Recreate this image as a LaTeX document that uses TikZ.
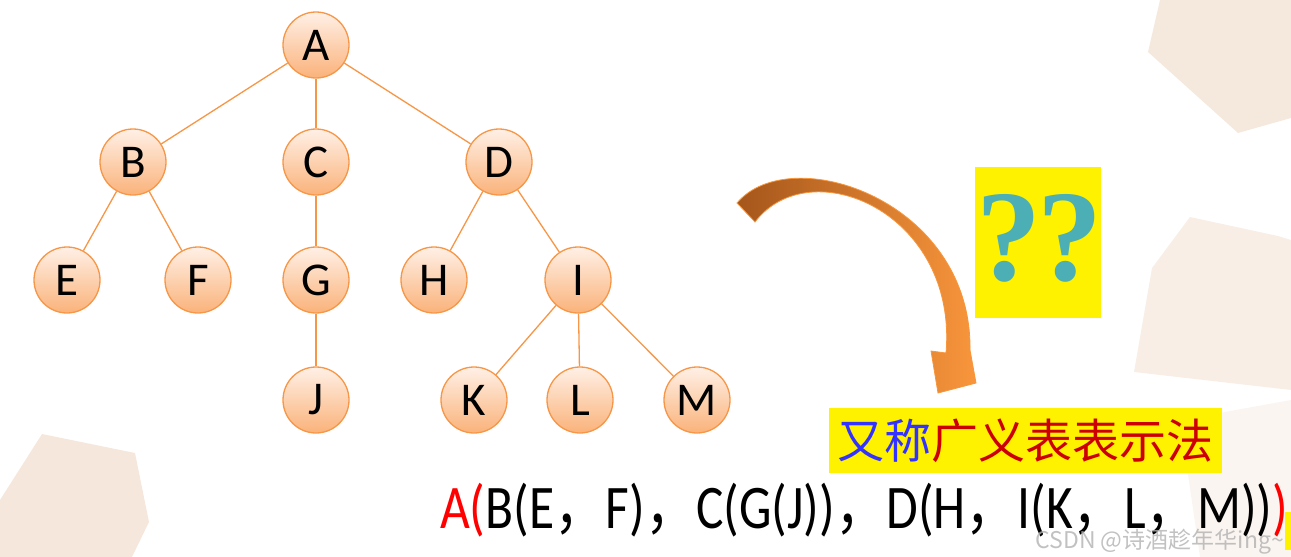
\documentclass[tikz,border=0pt]{standalone}
\usepackage{fontspec}
\setmainfont{Carlito}
\newfontfamily\cjk{Noto Sans CJK SC}
\newfontfamily\qfont{Liberation Serif}
\definecolor{edgeor}{HTML}{F79646}
\definecolor{nodetop}{HTML}{FFF0E6}
\definecolor{nodebot}{HTML}{FAB27A}
\definecolor{arrdark}{HTML}{A5561B}
\definecolor{arrlight}{HTML}{F9963C}
\definecolor{bgbeige}{HTML}{F3E3D6}
\definecolor{qteal}{HTML}{4CAFB6}
\definecolor{cjkblue}{HTML}{3333FF}
\definecolor{cjkred}{HTML}{CC0000}
\tikzset{
  tn/.style={circle, draw=edgeor, line width=1.3pt, minimum size=66pt, inner sep=0pt,
    top color=nodetop, bottom color=nodebot, font=\fontsize{47}{47}\selectfont},
  tedge/.style={draw=edgeor, line width=1.3pt},
  bgpoly/.style={fill=bgbeige, draw=none},
  ybox/.style={fill=yellow, draw=none}
}
\begin{document}
\begin{tikzpicture}[x=1pt,y=-1pt]
\useasboundingbox (0,0) rectangle (1291,557);
% background decorations
\fill[bgpoly, opacity=0.8] (1160,0) -- (1148,52) -- (1238,133) -- (1291,118) -- (1291,0) -- cycle;
\fill[bgpoly, opacity=0.6] (1190,217) -- (1278,236) -- (1291,240) -- (1291,390) -- (1134,372) -- (1152,268) -- cycle;
\fill[bgpoly, opacity=0.35] (1180,420) -- (1291,400) -- (1291,557) -- (1200,557) -- cycle;
\fill[bgpoly, opacity=0.85] (42,434) -- (135,453) -- (149,522) -- (132,557) -- (0,557) -- (0,500) -- cycle;
% tree nodes
\node[tn] (A) at (316,45) {A};
\node[tn] (B) at (133,162) {B};
\node[tn] (C) at (316,162) {C};
\node[tn] (D) at (499,162) {D};
\node[tn] (E) at (67,280) {E};
\node[tn] (F) at (198,280) {F};
\node[tn] (G) at (316,280) {G};
\node[tn] (H) at (434,280) {H};
\node[tn] (I) at (578,280) {I};
\node[tn] (J) at (316,400) {J};
\node[tn] (K) at (474,400) {K};
\node[tn] (L) at (580,400) {L};
\node[tn] (M) at (697,400) {M};
\foreach \p/\c in {A/B,A/C,A/D,B/E,B/F,C/G,D/H,D/I,G/J,I/K,I/L,I/M}
  \draw[tedge] (\p) -- (\c);
% curved arrow
\shade[left color=arrdark, right color=arrlight, draw=arrlight, line width=0.8pt]
  (737,203) .. controls (790,140) and (972,200) .. (970,350)
  -- (976,383) -- (938,393) -- (931,351) -- (946,353)
  .. controls (958,212) and (810,150) .. (755,222) -- cycle;
% question box
\node[ybox, minimum width=126pt, minimum height=151pt, inner sep=0pt] (qbox) at (1038,242.5) {};
\node[text=qteal, font=\qfont\bfseries\fontsize{130}{130}\selectfont, inner sep=0pt] (qq) at (1039,238) {?\kern-4pt?};
% CJK label
\node[ybox, minimum width=393pt, minimum height=65pt, inner sep=0pt] (cbox) at (1025.5,440.5) {};
\node[font=\cjk\fontsize{47}{47}\selectfont, inner sep=0pt] (ctext) at (cbox.center)
  {\textcolor{cjkblue}{又称}\textcolor{cjkred}{广义表表示法}};
% formula
\node[anchor=base west, inner sep=0pt, font=\fontsize{62}{62}\selectfont] (formula) at (440,528)
  {\scalebox{0.83}[1]{\textcolor{red}{A(}B(E{\cjk ，}F){\cjk ，}C(G(J)){\cjk ，}D(H{\cjk ，}I(K{\cjk ，}L{\cjk ，}M))\textcolor{red}{)}}};
\node[ybox, minimum width=6pt, minimum height=38pt, inner sep=0pt] (ytail) at (1288,531) {};
% watermark
\node[anchor=base east, inner sep=0pt, text=gray!60, opacity=0.8, font=\cjk\fontsize{23}{23}\selectfont] (wm) at (1284,548) {CSDN @诗酒趁年华ing\textasciitilde};
\end{tikzpicture}
\end{document}
